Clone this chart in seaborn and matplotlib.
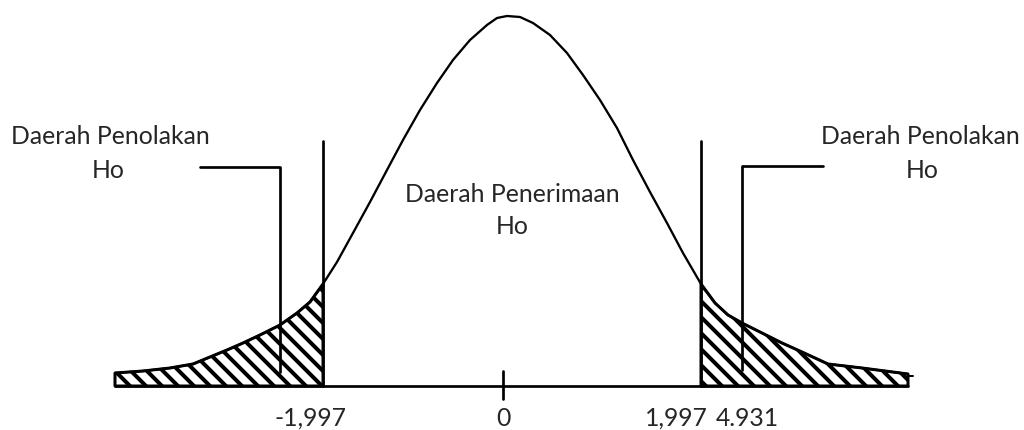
import numpy as np
import matplotlib
matplotlib.use("Agg")
import matplotlib.pyplot as plt
import seaborn as sns

# Curve: horizontal position and height above the baseline
curve_x = [115, 143, 170, 193, 210, 227, 243, 260, 280, 297, 310, 323,
           337, 353, 370, 387, 403, 420, 437, 453, 470, 487, 497, 507,
           520, 533, 550, 567, 583, 600, 617, 633, 650, 667, 683, 701,
           715, 728, 742, 762, 782, 802, 828, 862, 908]
curve_h = [13, 15, 18, 22, 29, 36, 43, 51, 61, 73, 84, 102,
           124, 153, 184, 216, 246, 276, 303, 326, 346, 361, 368, 370,
           369, 363, 351, 333, 311, 286, 258, 226, 194, 163, 133, 102,
           83, 71, 63, 53, 43, 34, 22, 18, 12]

tick_labels = ["-1,997", "0", "1,997", "4.931"]
left_crit = 323
right_crit = 701
zero_pos = 503
stat_pos = 742

sns.set_style("white")
plt.rcParams["font.family"] = ["Lato", "DejaVu Sans"]
plt.rcParams["hatch.linewidth"] = 2.0
plt.rcParams["hatch.color"] = "black"

DPI = 144
fig = plt.figure(figsize=(1024 / DPI, 430 / DPI), dpi=DPI)
ax = fig.add_axes([0, 0, 1, 1])
ax.set_xlim(0, 1024)
ax.set_ylim(-44, 386)
ax.axis("off")

cx = np.array(curve_x)
ch = np.array(curve_h)

# hatched rejection regions
lm = cx <= left_crit
rm = cx >= right_crit
for m in (lm, rm):
    ax.fill_between(cx[m], 0, ch[m], facecolor="white", edgecolor="black",
                    hatch="\\\\\\", linewidth=1.5, zorder=2)

# curve
sns.lineplot(x=cx, y=ch, sort=False, color="black", linewidth=1.15, ax=ax,
             zorder=3, estimator=None)

lw = 1.35
# baseline
ax.plot([curve_x[0], curve_x[-1]], [0, 0], color="black", lw=lw, zorder=3)
ax.plot([curve_x[-1], curve_x[-1] + 5], [10, 10], color="black", lw=1.0, zorder=3)
# critical lines
ax.plot([left_crit, left_crit], [0, 245], color="black", lw=lw, zorder=4)
ax.plot([right_crit, right_crit], [0, 245], color="black", lw=lw, zorder=4)
# zero tick
ax.plot([zero_pos, zero_pos], [-13, 15], color="black", lw=lw, zorder=4)
# leader lines
ax.plot([200, 280, 280], [219, 219, 14], color="black", lw=lw, zorder=4)
ax.plot([823, stat_pos, stat_pos], [220, 220, 16], color="black", lw=lw, zorder=4)

fs = 12.35
ax.text(110, 249, "Daerah Penolakan", ha="center", va="center", fontsize=fs)
ax.text(108, 215, "Ho", ha="center", va="center", fontsize=fs)
ax.text(920, 249, "Daerah Penolakan", ha="center", va="center", fontsize=fs)
ax.text(922, 215, "Ho", ha="center", va="center", fontsize=fs)
ax.text(512, 192, "Daerah Penerimaan", ha="center", va="center", fontsize=fs)
ax.text(512, 160, "Ho", ha="center", va="center", fontsize=fs)

label_pos = [311, 503, 676, 747]
for p, t in zip(label_pos, tick_labels):
    ax.text(p, -32, t, ha="center", va="center", fontsize=fs)

fig.savefig("out.png", dpi=DPI)
